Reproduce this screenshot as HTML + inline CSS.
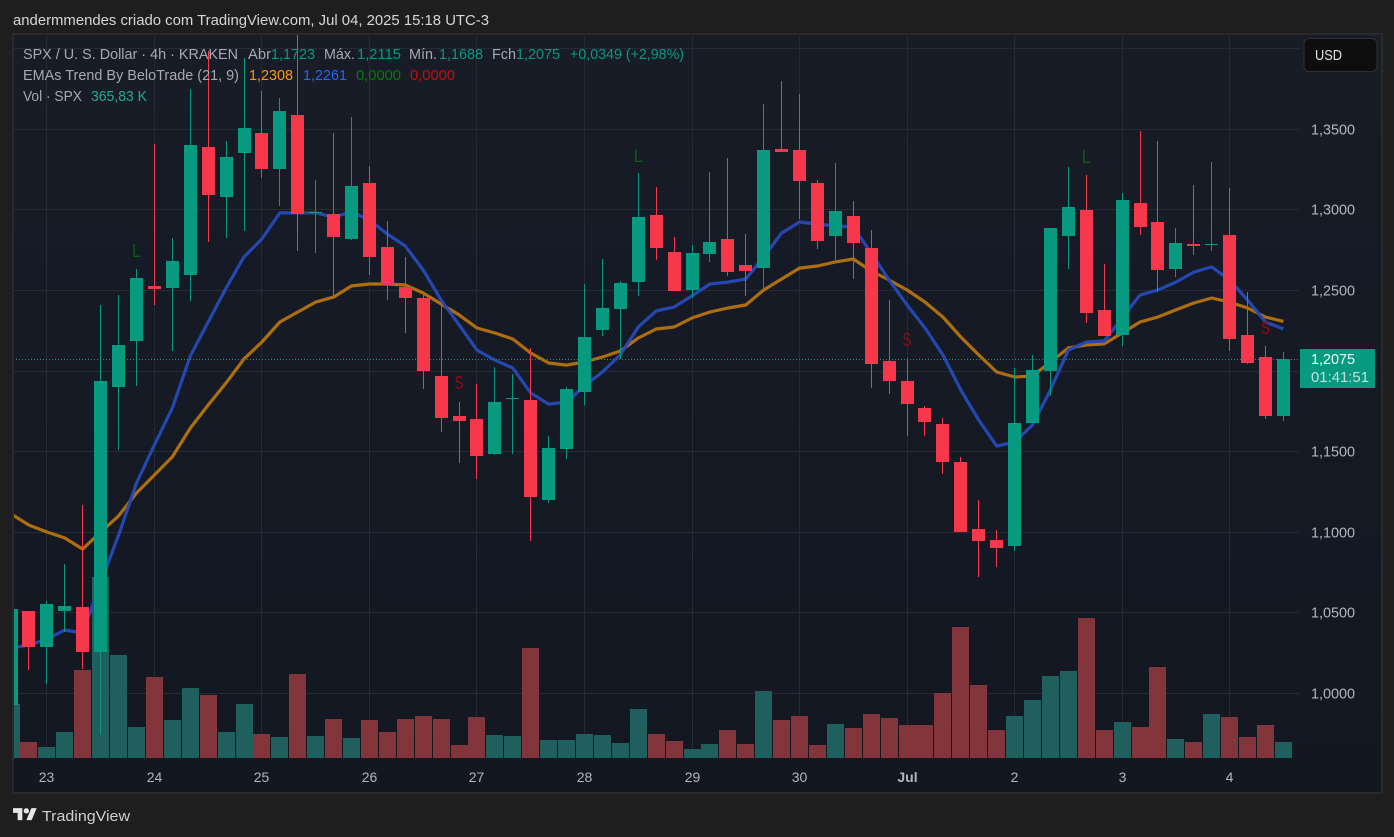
<!DOCTYPE html>
<html lang="pt">
<head>
<meta charset="utf-8">
<title>SPX / U. S. Dollar 4h chart</title>
<style>
html,body{margin:0;padding:0;background:#1e1e1e;width:1394px;height:837px;overflow:hidden}
svg{display:block}
text{font-family:"Liberation Sans",sans-serif;font-size:15px}
</style>
</head>
<body>
<svg id="chart" width="1394" height="837" viewBox="0 0 1394 837" xmlns="http://www.w3.org/2000/svg">
  <defs>
    <linearGradient id="bgGrad" x1="0" y1="0" x2="0" y2="1">
      <stop offset="0" stop-color="#181c27"/>
      <stop offset="1" stop-color="#131722"/>
    </linearGradient>
    <clipPath id="plotClip"><rect x="14" y="35" width="1285" height="723"/></clipPath>
  </defs>
  <rect x="0" y="0" width="1394" height="837" fill="#1e1e1e"/>
  <text x="13" y="25" fill="#d6d6d6" textLength="476" lengthAdjust="spacingAndGlyphs">andermmendes criado com TradingView.com, Jul 04, 2025 15:18 UTC-3</text>
  <rect x="13" y="34" width="1369" height="759" fill="url(#bgGrad)" stroke="#2a2a2d" stroke-width="2"/>

  <g id="gridLayer"></g>
  <g clip-path="url(#plotClip)">
    <g id="volLayer"></g>
    <polyline id="slowLine" fill="none" stroke="#b3720f" stroke-width="3.2" stroke-linejoin="round" opacity="0.97"/>
    <polyline id="fastLine" fill="none" stroke="#2549b5" stroke-width="3.2" stroke-linejoin="round" opacity="0.97"/>
    <line x1="13" x2="1299" y1="359.5" y2="359.5" stroke="#089981" stroke-width="1" stroke-dasharray="1 2"/>
    <g id="candleLayer"></g>
    <g id="signalLayer"></g>
  </g>

  <g id="priceAxis"></g>
  <g id="timeAxis"></g>

  <g>
    <text x="23" y="59" fill="#a6a9b3" textLength="215" lengthAdjust="spacingAndGlyphs">SPX / U. S. Dollar · 4h · KRAKEN</text>
    <text x="248" y="59" fill="#a6a9b3" textLength="23" lengthAdjust="spacingAndGlyphs">Abr</text>
    <text x="271" y="59" fill="#089981" textLength="44" lengthAdjust="spacingAndGlyphs">1,1723</text>
    <text x="324" y="59" fill="#a6a9b3" textLength="31" lengthAdjust="spacingAndGlyphs">Máx.</text>
    <text x="357" y="59" fill="#089981" textLength="44" lengthAdjust="spacingAndGlyphs">1,2115</text>
    <text x="409" y="59" fill="#a6a9b3" textLength="28" lengthAdjust="spacingAndGlyphs">Mín.</text>
    <text x="439" y="59" fill="#089981" textLength="44" lengthAdjust="spacingAndGlyphs">1,1688</text>
    <text x="492" y="59" fill="#a6a9b3" textLength="24" lengthAdjust="spacingAndGlyphs">Fch</text>
    <text x="516" y="59" fill="#089981" textLength="44" lengthAdjust="spacingAndGlyphs">1,2075</text>
    <text x="570" y="59" fill="#089981" textLength="114" lengthAdjust="spacingAndGlyphs">+0,0349 (+2,98%)</text>
  </g>
  <g>
    <text x="23" y="80" fill="#a6a9b3" textLength="216" lengthAdjust="spacingAndGlyphs">EMAs Trend By BeloTrade (21, 9)</text>
    <text x="249" y="80" fill="#ff9800" textLength="44" lengthAdjust="spacingAndGlyphs">1,2308</text>
    <text x="303" y="80" fill="#2962ff" textLength="44" lengthAdjust="spacingAndGlyphs">1,2261</text>
    <text x="356" y="80" fill="#0a7a0a" textLength="45" lengthAdjust="spacingAndGlyphs">0,0000</text>
    <text x="410" y="80" fill="#cc0b0b" textLength="45" lengthAdjust="spacingAndGlyphs">0,0000</text>
  </g>
  <g>
    <text x="23" y="101" fill="#a6a9b3" textLength="59" lengthAdjust="spacingAndGlyphs">Vol · SPX</text>
    <text x="91" y="101" fill="#22ab94" textLength="56" lengthAdjust="spacingAndGlyphs">365,83 K</text>
  </g>

  <g>
    <rect x="1304" y="38.5" width="73" height="33" rx="5" fill="#0e0e0e" stroke="#2f3033" stroke-width="1"/>
    <text x="1315" y="60" fill="#e4e4e4" textLength="27" lengthAdjust="spacingAndGlyphs">USD</text>
  </g>

  <g>
    <rect x="1300" y="349" width="75" height="39" rx="1" fill="#089981"/>
    <text x="1311" y="364" fill="#f4fbfa" textLength="44" lengthAdjust="spacingAndGlyphs">1,2075</text>
    <text x="1311" y="382" fill="#bfe3dc" textLength="58" lengthAdjust="spacingAndGlyphs">01:41:51</text>
  </g>

  <g>
    <g transform="translate(13 805.5) scale(0.667)" fill="#e6e6e6">
      <path d="M14 22H7V11H0V4h14v18zM28 22h-8l7.5-18h8L28 22z"/>
      <circle cx="20" cy="8" r="4"/>
    </g>
    <text x="42" y="821" fill="#cfcfcf" textLength="88" lengthAdjust="spacingAndGlyphs">TradingView</text>
  </g>
</svg>

<script>
// First bar index shown is -2; index 0 is the session of the 23rd
const firstBar = -2;
const opens = [0.9927,1.0511,1.0287,1.0511,1.0536,1.0256,1.1901,1.2186,1.2528,1.2515,1.2596,1.3390,1.3080,1.3353,1.3477,1.3254,1.3589,1.2981,1.2974,1.2820,1.3167,1.2770,1.2521,1.2453,1.1969,1.1721,1.1702,1.1485,1.1826,1.1820,1.1200,1.1516,1.1870,1.2255,1.2385,1.2552,1.2968,1.2739,1.2503,1.2726,1.2820,1.2658,1.2639,1.3378,1.3372,1.3167,1.2838,1.2962,1.2763,1.2062,1.1938,1.1771,1.1671,1.1435,1.1019,1.0951,1.0914,1.1677,1.2000,1.2838,1.3000,1.2379,1.2224,1.3043,1.2925,1.2633,1.2788,1.2782,1.2844,1.2224,1.2087,1.1723];
const highs = [1.0523,1.0511,1.0573,1.0802,1.1169,1.2410,1.2472,1.2633,1.3409,1.2826,1.3750,1.3986,1.3427,1.3943,1.3738,1.3694,1.4092,1.3185,1.3477,1.3576,1.3272,1.2931,1.2708,1.2484,1.2410,1.1808,1.1919,1.2025,1.1982,1.2143,1.1597,1.1901,1.2540,1.2695,1.2559,1.3229,1.3142,1.2832,1.2782,1.3235,1.3322,1.2850,1.3657,1.3800,1.3719,1.3185,1.3291,1.3055,1.2875,1.2441,1.2081,1.1783,1.1708,1.1467,1.1200,1.1013,1.2019,1.2100,1.2888,1.3266,1.3216,1.2664,1.3105,1.3490,1.3427,1.2888,1.3154,1.3297,1.3136,1.2490,1.2155,1.2115];
const lows = [0.9927,1.0145,1.0058,1.0380,1.0151,0.9741,1.1510,1.1907,1.2410,1.2124,1.2435,1.2801,1.2826,1.2869,1.3198,1.3024,1.2745,1.2732,1.2453,1.2813,1.2596,1.2441,1.2236,1.1891,1.1622,1.1429,1.1330,1.1479,1.1485,1.0945,1.1181,1.1454,1.1789,1.2217,1.2075,1.2466,1.2689,1.2497,1.2453,1.2677,1.2590,1.2466,1.2509,1.3359,1.2943,1.2757,1.2689,1.2571,1.1895,1.1857,1.1597,1.1597,1.1361,1.1001,1.0722,1.0784,1.0883,1.1677,1.1845,1.2633,1.2298,1.2217,1.2155,1.2844,1.2490,1.2583,1.2720,1.2745,1.2124,1.2044,1.1702,1.1688];
const closes = [1.0523,1.0287,1.0554,1.0542,1.0256,1.1938,1.2162,1.2577,1.2509,1.2683,1.3403,1.3092,1.3328,1.3508,1.3254,1.3614,1.2974,1.2987,1.2832,1.3148,1.2708,1.2534,1.2453,1.2000,1.1708,1.1690,1.1473,1.1808,1.1832,1.1218,1.1522,1.1888,1.2211,1.2391,1.2546,1.2956,1.2763,1.2497,1.2732,1.2801,1.2614,1.2621,1.3372,1.3359,1.3179,1.2807,1.2993,1.2795,1.2044,1.1938,1.1795,1.1684,1.1435,1.1001,1.0945,1.0902,1.1677,1.2006,1.2888,1.3018,1.2360,1.2217,1.3061,1.2894,1.2627,1.2795,1.2776,1.2788,1.2199,1.2050,1.1721,1.2075];
const volumesK = [1237,366,252,595,2015,4145,2359,710,1855,870,1603,1443,595,1237,550,481,1924,504,893,458,870,595,893,962,893,298,939,527,504,2519,412,412,550,527,344,1122,550,389,206,321,641,321,1534,870,962,298,779,687,1008,916,756,756,1489,3000,1672,641,962,1328,1878,1992,3206,641,824,710,2084,435,366,1008,939,481,756,366];
const emaSlow = [1.1113,1.1044,1.1001,1.0964,1.0895,1.1001,1.1101,1.1243,1.1355,1.1467,1.1646,1.1789,1.1926,1.2075,1.2180,1.2304,1.2366,1.2428,1.2459,1.2528,1.2540,1.2540,1.2534,1.2484,1.2416,1.2348,1.2267,1.2236,1.2199,1.2112,1.2050,1.2037,1.2056,1.2087,1.2124,1.2205,1.2261,1.2273,1.2329,1.2366,1.2391,1.2410,1.2503,1.2571,1.2639,1.2652,1.2677,1.2695,1.2621,1.2565,1.2503,1.2428,1.2335,1.2211,1.2100,1.1994,1.1963,1.1969,1.2056,1.2143,1.2162,1.2168,1.2236,1.2304,1.2335,1.2379,1.2422,1.2453,1.2428,1.2391,1.2335,1.2308];
const emaFast = [1.0281,1.0299,1.0337,1.0393,1.0374,1.0685,1.0982,1.1305,1.1541,1.1770,1.2093,1.2304,1.2515,1.2708,1.2820,1.2981,1.2981,1.2981,1.2956,1.2987,1.2937,1.2850,1.2776,1.2627,1.2441,1.2286,1.2130,1.2068,1.2019,1.1864,1.1795,1.1808,1.1907,1.1994,1.2100,1.2273,1.2373,1.2397,1.2466,1.2540,1.2552,1.2571,1.2708,1.2856,1.2925,1.2912,1.2900,1.2894,1.2732,1.2565,1.2410,1.2267,1.2100,1.1882,1.1696,1.1535,1.1559,1.1665,1.1882,1.2130,1.2180,1.2186,1.2329,1.2472,1.2503,1.2552,1.2614,1.2646,1.2565,1.2441,1.2304,1.2261];
const priceTicks = [1.40,1.35,1.30,1.25,1.20,1.15,1.10,1.05,1.00];
const priceTickLabels = ["","1,3500","1,3000","1,2500","","1,1500","1,1000","1,0500","1,0000"];
const timeTickBars = [0,6,12,18,24,30,36,42,48,54,60,66];
const timeTickLabels = ["23","24","25","26","27","28","29","30","Jul","2","3","4"];
const signalBars = [5,33,58,23,48,68];
const signalKinds = ["L","L","L","S","S","S"];
const signalPrices = [1.2708,1.3297,1.3291,1.1888,1.2155,1.2230];

const NS = "http://www.w3.org/2000/svg";
function xAxis(bar){ return 46.9 + 17.92 * bar; }
function yAxis(price){ return 693.3 - (price - 1) * 1611.4; }
function volAxis(k){ return 758 - k / 22.9; }
function make(tag, attrs, parent){
  const el = document.createElementNS(NS, tag);
  for (const k in attrs) el.setAttribute(k, attrs[k]);
  parent.appendChild(el);
  return el;
}
const gridLayer = document.getElementById("gridLayer");
const priceAxis = document.getElementById("priceAxis");
const timeAxis = document.getElementById("timeAxis");
const volLayer = document.getElementById("volLayer");
const candleLayer = document.getElementById("candleLayer");
const signalLayer = document.getElementById("signalLayer");

priceTicks.forEach(function(p, n){
  const y = Math.floor(yAxis(p)) + 0.5;
  const line = make("line", {x1:14, x2:1299, y1:y, y2:y, stroke:"#262a34", "stroke-width":1}, gridLayer);
  
  
  if (priceTickLabels[n]) {
    const t = make("text", {x:1311, y:y + 5, fill:"#b2b5be", textLength:44, lengthAdjust:"spacingAndGlyphs"}, priceAxis);
    
    
    t.textContent = priceTickLabels[n];
  }
});

timeTickBars.forEach(function(b, n){
  const x = Math.floor(xAxis(b)) + 0.5;
  const line = make("line", {x1:x, x2:x, y1:35, y2:758, stroke:"#262a34", "stroke-width":1}, gridLayer);
  
  
  const label = timeTickLabels[n];
  const t = make("text", {x:x, y:782, fill:"#b2b5be", "text-anchor":"middle", style:"font-size:14px"}, timeAxis);
  
  
  if (label === "Jul") t.setAttribute("font-weight", "700");
  t.textContent = label;
});

volumesK.forEach(function(v, n){
  const bar = firstBar + n;
  const cx = Math.floor(xAxis(bar));
  const up = closes[n] >= opens[n];
  const top = Math.round(volAxis(v));
  const r = make("rect", {x:cx - 8, y:top, width:17, height:758 - top, fill: up ? "#1f5f5e" : "#82363b"}, volLayer);
  
  
});

function linePoints(values){
  return values.map(function(v, n){ return xAxis(firstBar + n).toFixed(1) + "," + yAxis(v).toFixed(1); }).join(" ");
}
document.getElementById("slowLine").setAttribute("points", linePoints(emaSlow));
document.getElementById("fastLine").setAttribute("points", linePoints(emaFast));

opens.forEach(function(o, n){
  const bar = firstBar + n;
  const c = closes[n];
  const cx = Math.floor(xAxis(bar));
  const color = c >= o ? "#089981" : "#f7374b";
  const yHigh = Math.round(yAxis(highs[n]));
  const yLow = Math.round(yAxis(lows[n]));
  const top = Math.round(yAxis(Math.max(o, c)));
  const bottom = Math.round(yAxis(Math.min(o, c)));
  const g = make("g", {}, candleLayer);
  
  
  const wick = make("rect", {x:cx, y:yHigh, width:1, height:Math.max(1, yLow - yHigh), fill:color}, g);
  
  
  const body = make("rect", {x:cx - 6, y:top, width:13, height:Math.max(1, bottom - top), fill:color}, g);
  
  
});

signalBars.forEach(function(b, n){
  const kind = signalKinds[n];
  const t = make("text", {x:xAxis(b), y:yAxis(signalPrices[n]), fill: kind === "L" ? "#0d5c14" : "#8f0c16", "text-anchor":"middle", textLength:9, lengthAdjust:"spacingAndGlyphs", style:"font-size:18px"}, signalLayer);
  
  
  t.textContent = kind;
});
</script>
</body>
</html>
